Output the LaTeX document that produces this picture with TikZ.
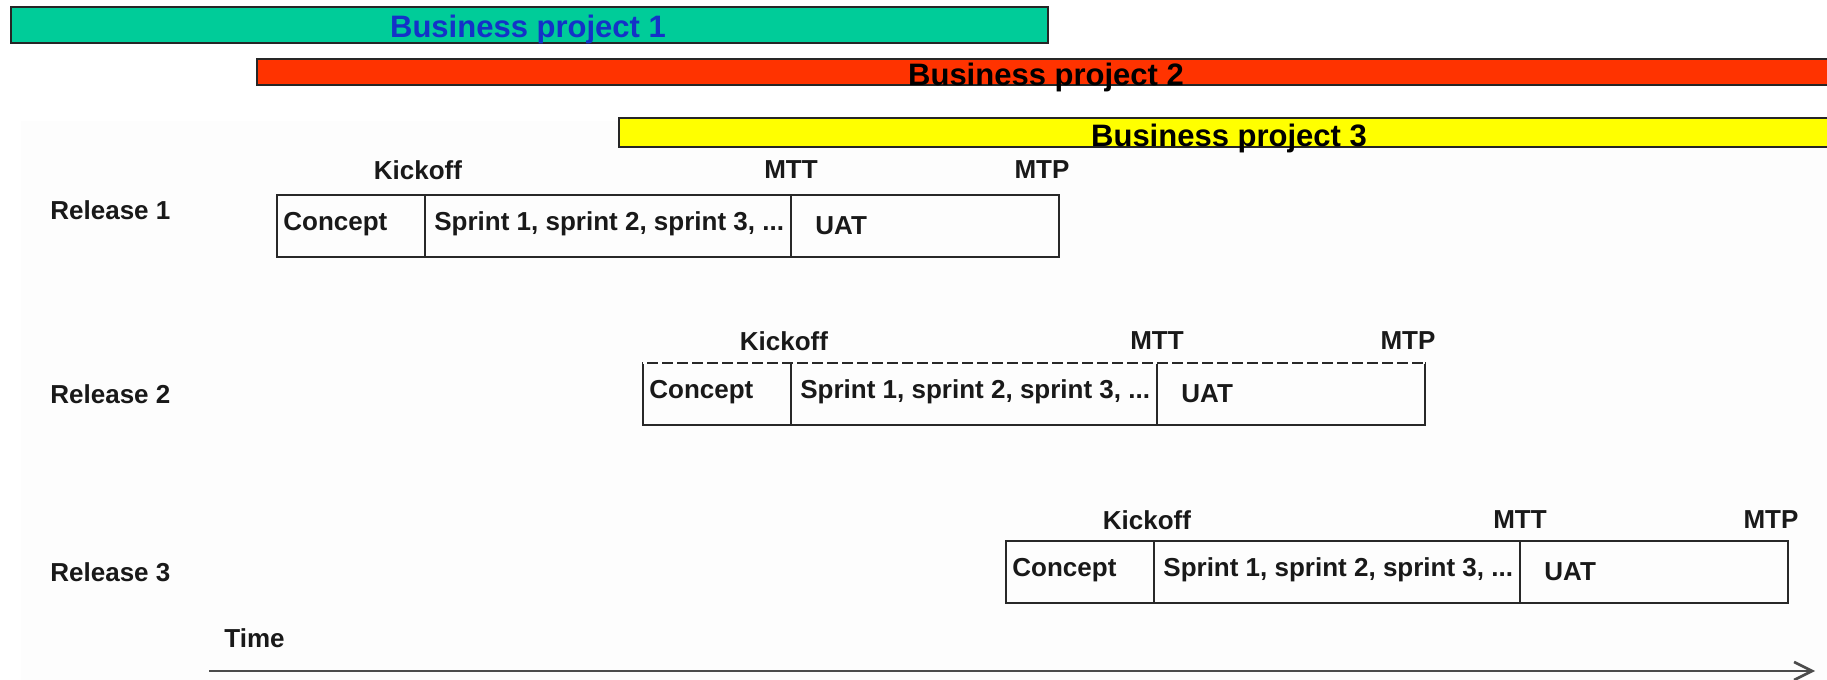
\documentclass[tikz,border=0pt]{standalone}
\usepackage{fontspec}
\setmainfont{Liberation Sans}
\usetikzlibrary{arrows.meta}
\definecolor{bpteal}{RGB}{0,204,153}
\definecolor{bpred}{RGB}{255,51,0}
\definecolor{bpyellow}{RGB}{255,255,0}
\definecolor{bpblue}{RGB}{20,50,200}
\definecolor{bgpaper}{RGB}{253,253,253}
\definecolor{boxline}{RGB}{40,40,40}
\tikzset{
  bar/.style={draw=black!85, line width=1pt, rectangle, inner sep=0pt, outer sep=0pt, anchor=north west, minimum height=#1},
  bartext/.style={font=\fontsize{15.5}{18}\selectfont\bfseries, inner sep=0pt, anchor=base},
  seg/.style={draw=boxline, line width=1pt, rectangle, inner sep=0pt, outer sep=0pt, anchor=north west, minimum height=31pt},
  boxtext/.style={font=\fontsize{13}{15}\selectfont\bfseries, text=black!90, inner sep=0pt, anchor=west},
  reltext/.style={font=\fontsize{13}{15}\selectfont\bfseries, text=black!90, inner sep=0pt, anchor=west},
  mstext/.style={font=\fontsize{13}{15}\selectfont\bfseries, text=black!90, inner sep=0pt},
  timearrow/.style={draw=black!70, line width=1.3pt, -{Straight Barb[length=9pt,width=9pt]}},
}
\newcommand{\relrow}[5]{%
  % #1 id, #2 left x, #3 top y, #4 label y, #5 milestone y
  \node[reltext] (r#1l) at (50,#4) {Release #1};
  \node[seg, minimum width=74pt] (r#1c) at (#2,#3) {};
  \node[seg, minimum width=183pt] (r#1s) at (r#1c.north east) {};
  \node[seg, minimum width=134pt] (r#1u) at (r#1s.north east) {};
  \node[boxtext] (r#1ct) at ([xshift=3pt,yshift=1pt]r#1c.west) {Concept};
  \node[boxtext] (r#1st) at ([xshift=4.5pt,yshift=1pt]r#1s.west) {Sprint 1, sprint 2, sprint 3, ...};
  \node[boxtext] (r#1ut) at ([xshift=12pt]r#1u.west) {UAT};
  \node[mstext] (r#1k) at ({#2+141},#5) {Kickoff};
  \node[mstext] (r#1m) at ({#2+514},#5) {MTT};
  \node[mstext] (r#1p) at ({#2+765},#5) {MTP};
}
\begin{document}
\begin{tikzpicture}[x=0.5pt,y=-0.5pt]
  \clip (0,0) rectangle (1827,680);
  \fill[white] (0,0) rectangle (1827,680);
  \fill[bgpaper] (21,121) rectangle (1827,680);
  % business projects
  \node[bar=18pt, fill=bpteal, minimum width=518.5pt] (bp1) at (11,7) {};
  \node[bartext, text=bpblue] (bp1t) at (528,37) {Business project 1};
  \node[bar=13pt, fill=bpred, minimum width=800pt] (bp2) at (257,59) {};
  \node[bartext, text=black] (bp2t) at (1046,85) {Business project 2};
  \node[bar=14.5pt, fill=bpyellow, minimum width=620pt] (bp3) at (619,118) {};
  \node[bartext, text=black] (bp3t) at (1229,146) {Business project 3};
  % releases
  \relrow{1}{277}{195}{210}{170}
  \relrow{2}{643}{363}{394}{341}
  \relrow{3}{1006}{541}{572}{520}
  % watermark gaps on release 2 top edge
  \draw[white, line width=1.4pt, dash pattern=on 2pt off 5.5pt] (r2c.north west) -- (r2u.north east);
  % time axis
  \node[reltext] (time) at (224,638) {Time};
  \coordinate (ts) at (209,671);
  \coordinate (te) at (1815,671);
  \draw[timearrow] (ts) -- (te);
\end{tikzpicture}
\end{document}
